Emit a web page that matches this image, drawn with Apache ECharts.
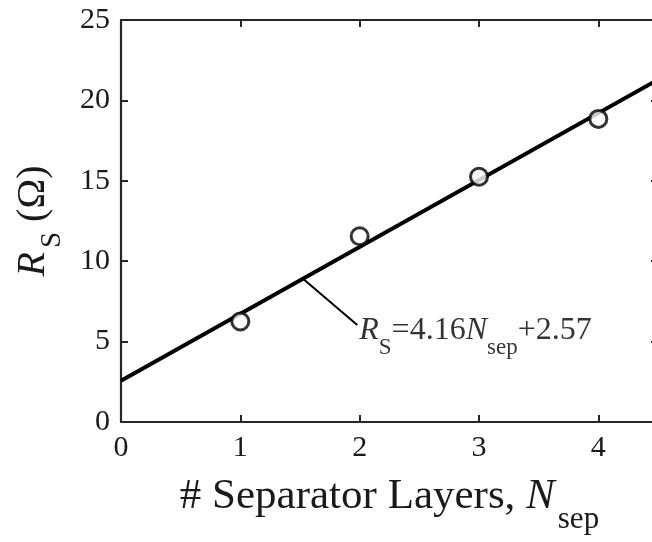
<!DOCTYPE html>
<html>
<head>
<meta charset="utf-8">
<script src="https://cdn.jsdelivr.net/npm/echarts@6/dist/echarts.min.js"></script>
<style>
html,body{margin:0;padding:0;background:#fff;}
#chart{width:652px;height:542px;}
</style>
</head>
<body>
<div id="chart"></div>
<script>
// Series resistance vs. number of separator layers
const layers = [1, 2, 3, 4];
const resistance = [6.25, 11.55, 15.25, 18.85];
const xTicks = [0, 1, 2, 3, 4];
const yTicks = [0, 5, 10, 15, 20, 25];
// Linear fit coefficients: R_S = slope * N_sep + intercept
const slope = 4.16;
const intercept = 2.57;
const fitRange = [0, 4.5];
// Leader line from the fit line to the equation label
const leaderFrom = [1.525, 8.91];
const leaderTo = [1.98, 6.03];

const FONT = '"Liberation Serif", "Times New Roman", serif';
const INK = '#1a1a1a';

const fitLine = fitRange.map(x => [x, slope * x + intercept]);
const points = layers.map((n, i) => [n, resistance[i]]);

const chart = echarts.init(document.getElementById('chart'));

const axisCommon = {
  axisLine: { show: true, onZero: false, lineStyle: { color: '#262626', width: 2.2 } },
  axisTick: { show: true, inside: true, length: 7, lineStyle: { color: '#262626', width: 2 } },
  splitLine: { show: false }
};

chart.setOption({
  animation: false,
  backgroundColor: '#fff',
  grid: { left: 121, top: 20, width: 537, height: 402, containLabel: false, outerBoundsMode: 'none' },
  xAxis: [
    Object.assign({}, axisCommon, {
      type: 'value', min: 0, max: 4.5, interval: 1, position: 'bottom',
      axisLabel: { show: true, margin: 11, fontFamily: FONT, fontSize: 30, color: INK,
        formatter: v => xTicks.includes(v) ? String(v) : '' },
      name: '{t|# Separator Layers, }{i|N}{s|sep}',
      nameLocation: 'middle', nameGap: 48,
      nameTextStyle: {
        fontFamily: FONT, color: INK,
        rich: {
          t: { fontFamily: FONT, fontSize: 43, color: INK, verticalAlign: 'bottom', lineHeight: 48 },
          i: { fontFamily: FONT, fontSize: 43, color: INK, fontStyle: 'italic', verticalAlign: 'bottom', lineHeight: 48 },
          s: { fontFamily: FONT, fontSize: 31, color: INK, verticalAlign: 'bottom', lineHeight: 48, padding: [0, 0, -17, 3] }
        }
      }
    }),
    Object.assign({}, axisCommon, {
      type: 'value', min: 0, max: 4.5, interval: 1, position: 'top',
      axisLabel: { show: false }
    })
  ],
  yAxis: [
    Object.assign({}, axisCommon, {
      type: 'value', min: 0, max: 25, interval: 5, position: 'left',
      axisLabel: { show: true, margin: 11, fontFamily: FONT, fontSize: 30, color: INK,
        formatter: v => yTicks.includes(v) ? String(v) : '' },
      name: '{i|R}{s|S}{t| (Ω)}',
      nameLocation: 'middle', nameGap: 68, nameRotate: 90,
      nameTextStyle: {
        fontFamily: FONT, color: INK,
        rich: {
          i: { fontFamily: FONT, fontSize: 40, color: INK, fontStyle: 'italic', verticalAlign: 'bottom', lineHeight: 46 },
          s: { fontFamily: FONT, fontSize: 29, color: INK, verticalAlign: 'bottom', lineHeight: 46, padding: [0, 0, -14, 4] },
          t: { fontFamily: FONT, fontSize: 40, color: INK, verticalAlign: 'bottom', lineHeight: 46 }
        }
      }
    }),
    Object.assign({}, axisCommon, {
      type: 'value', min: 0, max: 25, interval: 5, position: 'right',
      axisLabel: { show: false }
    })
  ],
  series: [
    {
      type: 'line', data: fitLine, xAxisIndex: 0, yAxisIndex: 0,
      showSymbol: false, symbol: 'none',
      lineStyle: { color: '#000', width: 4 }, z: 2
    },
    {
      type: 'line', data: [leaderFrom, leaderTo],
      showSymbol: false, symbol: 'none',
      lineStyle: { color: '#000', width: 2 }, z: 2
    },
    {
      type: 'scatter', data: [leaderTo], symbolSize: 0, z: 4,
      label: {
        show: true, position: 'right', distance: 2, offset: [0, 4],
        formatter: '{i|R}{s|S}{t|=4.16}{i|N}{s|sep}{t|+2.57}',
        rich: {
          i: { fontFamily: FONT, fontSize: 32, color: '#000', fontStyle: 'italic', verticalAlign: 'bottom', lineHeight: 36 },
          t: { fontFamily: FONT, fontSize: 32, color: '#000', verticalAlign: 'bottom', lineHeight: 36 },
          s: { fontFamily: FONT, fontSize: 23, color: '#000', verticalAlign: 'bottom', lineHeight: 36, padding: [0, 0, -12, 0] }
        }
      }
    },
    {
      type: 'scatter', data: points, symbol: 'circle', symbolSize: 17, z: 5,
      itemStyle: { color: '#fff', borderColor: '#000', borderWidth: 3 }
    }
  ]
});
</script>
</body>
</html>
